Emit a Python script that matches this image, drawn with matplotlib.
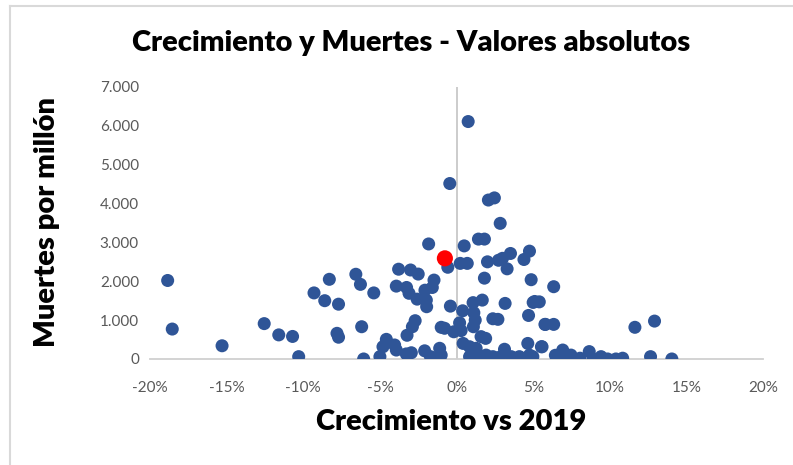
import matplotlib
matplotlib.use("Agg")
import matplotlib.pyplot as plt
from matplotlib.lines import Line2D
from matplotlib.ticker import FuncFormatter

plt.rcParams['font.family'] = ['Lato', 'DejaVu Sans']

# crecimiento vs 2019 (%), muertes por millón
crecimiento = [
    -18.85, -18.55, -15.3, -12.55, -11.6, -10.7, -10.3, -9.3, -8.6, -8.3,
    -7.7, -7.8, -7.7, -6.57, -6.27, -5.4, -6.19, -6.06, -5.0,
    -4.58, -4.8, -4.04, -3.93, -3.78, -3.0, -2.5, -3.93, -3.26, -3.1,
    -2.57, -2.06, -1.47, -1.58, -1.97, -1.95, -2.7, -2.88, -3.23, -3.28,
    -2.95, -2.08, -1.7, -1.1, -1.0, -1.82, -1.0, -0.78, -0.44, -0.57,
    -0.4, -0.18, 0.76, 0.5, 0.24, 0.7, 0.4, 0.2, 0.3, 0.43,
    0.85, 1.28, 0.85, 1.07, 1.4, 1.08, 1.68, 1.13, 1.22, 1.1,
    1.6, 1.9, 1.43, 1.82, 2.08, 2.47, 2.85, 2.02, 2.74, 3.0,
    3.52, 3.3, 1.82, 2.37, 2.7, 3.17, 1.93, 2.37, 2.8, 3.13,
    3.57, 4.1, 4.4, 4.76, 4.87, 4.7, 5.0, 5.1, 4.65, 4.76,
    4.98, 5.54, 5.77, 5.4, 5.8, 6.34, 6.34, 5.58, 6.45, 6.93,
    6.93, 7.47, 8.06, 8.66, 8.92, 9.43, 9.86, 10.4, 10.84, 11.64,
    12.92, 12.66, 14.05,
]
muertes = [
    2020, 770, 340, 910, 620, 580, 60, 1700, 1500, 2050,
    1410, 660, 560, 2180, 1920, 1700, 830, 0, 60,
    505, 315, 360, 230, 2310, 2290, 2185, 1875, 1840, 1690,
    1540, 1770, 2030, 1840, 1515, 1345, 985, 830, 610, 130,
    160, 210, 60, 275, 100, 2960, 815, 790, 4515, 2360,
    1360, 700, 6110, 2910, 2460, 2460, 1240, 930, 730, 400,
    315, 275, 60, 145, 20, 1450, 1515, 1190, 1000, 830,
    575, 530, 3085, 3085, 4090, 4145, 3490, 2500, 2540, 2590,
    2715, 2320, 2080, 1035, 1020, 1430, 100, 60, 45, 250,
    60, 60, 2560, 2775, 2040, 1120, 1455, 1480, 400, 100,
    60, 315, 890, 1470, 890, 890, 1860, 315, 95, 230,
    20, 100, 20, 190, 0, 60, 0, 0, 20, 815,
    975, 60, 0,
]
# punto destacado
destacado_x = [-0.76]
destacado_y = [2590]

fig = plt.figure(figsize=(7.93, 4.65), dpi=100)
ax = fig.add_axes([0.1892, 0.228, 0.7730, 0.585])

ax.scatter(crecimiento, muertes, s=88, color='#2F5597', edgecolors='none', zorder=3)
ax.scatter(destacado_x, destacado_y, s=135, color='#FF0000', edgecolors='none', zorder=4)

ax.set_xlim(-20, 20)
ax.set_ylim(0, 7000)
ax.set_xticks(range(-20, 21, 5))
ax.set_yticks(range(0, 7001, 1000))
ax.xaxis.set_major_formatter(FuncFormatter(lambda v, p: '%d%%' % v))
ax.yaxis.set_major_formatter(FuncFormatter(lambda v, p: '{:,.0f}'.format(v).replace(',', '.')))

for s in ['top', 'right', 'left']:
    ax.spines[s].set_visible(False)
ax.spines['bottom'].set_color('#D0D0D0')
ax.spines['bottom'].set_linewidth(1.3)
ax.axvline(0, color='#C8C8C8', lw=1.3, zorder=1)

ax.tick_params(axis='both', length=0, labelsize=11, labelcolor='#595959')
ax.tick_params(axis='x', pad=16)
ax.tick_params(axis='y', pad=8)

fig.text(0.518, 0.9075, 'Crecimiento y Muertes - Valores absolutos', fontsize=21,
         fontweight='heavy', ha='center', va='center')
fig.text(0.569, 0.0925, 'Crecimiento vs 2019', fontsize=21, fontweight='heavy',
         ha='center', va='center')
fig.text(0.059, 0.522, 'Muertes por millón', fontsize=21, fontweight='heavy',
         ha='center', va='center', rotation=90)

# marco del gráfico
fig.add_artist(Line2D([0.0126, 0.0126], [0, 0.988], color='#D9D9D9', lw=1.5,
                      transform=fig.transFigure))
fig.add_artist(Line2D([0.0126, 1.0], [0.988, 0.988], color='#D9D9D9', lw=1.5,
                      transform=fig.transFigure))

fig.savefig('out.png', dpi=100)
